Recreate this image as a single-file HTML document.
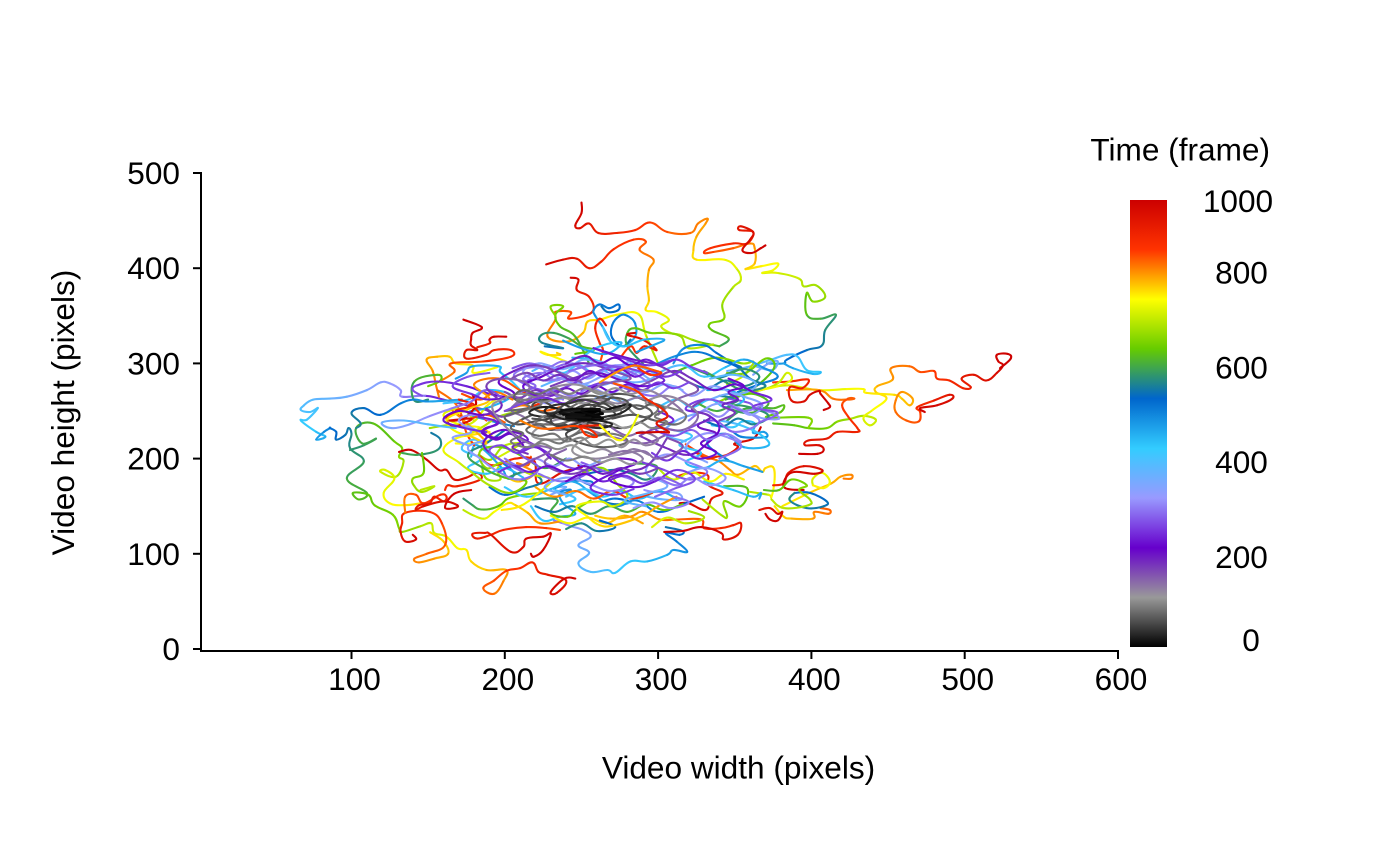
<!DOCTYPE html>
<html lang="en">
<head>
<meta charset="utf-8">
<title>Trajectories over time</title>
<style>
html,body{margin:0;padding:0;background:#fff}
svg{display:block}
text{font-family:"Liberation Sans",Arial,sans-serif;font-size:31.6px;fill:#000}
</style>
</head>
<body>
<svg id="chart" width="1400" height="866" viewBox="0 0 1400 866" xmlns="http://www.w3.org/2000/svg">
<defs><linearGradient id="time-gradient" x1="0" y1="1" x2="0" y2="0"></linearGradient></defs>
<g id="tracks"></g>
<g id="axes"></g>
<text x="738.5" y="778.5" text-anchor="middle">Video width (pixels)</text>
<text transform="translate(74 412.5) rotate(-90)" text-anchor="middle">Video height (pixels)</text>
<text x="1270" y="160.5" text-anchor="end">Time (frame)</text>
<rect x="1130" y="200" width="37" height="447" fill="url(#time-gradient)"></rect>
<g id="legend"></g>
</svg>
<script>
const xTicks=[100,200,300,400,500,600];
const yTicks=[0,100,200,300,400,500];
const legendTicks=[1000,800,600,400,200,0];
const timeStops=[0,111,222,333,444,556,667,778,889,1000];
const timeColors=["#000000","#999999","#6600cc","#9999ff","#33ccff","#0066cc","#66cc00","#ffff00","#ff3300","#cc0000"];

// Rows are [frame, x, y] in video pixels.
const track01=[[600,340,318],[640,346,326],[660,335,335],[670,334,342],[690,343,347],[700,342,363],[720,349,380],[735,354,388],[750,351,400],[775,343,409],[790,325,409],[805,323,419],[820,325,433],[835,331,447],[840,332,452],[845,326,447],[855,321,437],[870,306,438],[885,295,448],[900,285,440],[915,273,437],[935,261,437],[950,255,447],[965,249,442],[975,246,445],[985,250,458],[1000,250,469]];
const track02=[[640,340,318],[670,328,322],[700,322,325],[725,314,330],[735,308,332],[745,302,339],[755,307,346],[765,299,354],[790,292,356],[805,294,366],[815,293,381],[830,294,398],[845,297,409],[860,288,419],[875,292,428],[885,284,430],[900,271,420],[915,263,407],[930,255,400],[950,247,410],[970,238,409],[1000,227,404]];
const track03=[[700,300,300],[740,292,330],[770,287,352],[778,273,351],[790,262,346],[800,254,344],[815,251,332],[830,241,323],[845,228,328],[855,233,346],[865,233,354],[875,243,354],[885,242,347],[900,257,354],[925,255,370],[950,247,377],[975,248,388],[1000,243,390]];
const track04=[[620,255,300],[640,246,328],[660,236,339],[672,233,351],[680,238,360],[688,230,360],[696,233,350]];
const track05=[[560,226,318],[575,238,316],[590,224,322],[600,224,330],[612,232,332],[625,242,326],[640,250,318],[655,258,314],[670,246,310]];
const track06=[[470,269,323],[490,264,338],[505,259,350],[520,258,356],[530,262,362],[540,268,358],[548,274,362],[556,274,356],[565,267,354],[575,263,360]];
const track07=[[470,278,318],[490,285,328],[505,285,342],[515,280,350],[525,275,350],[535,270,340],[550,270,327],[565,277,318],[580,282,325]];
const track08=[[650,375,237],[660,389,235],[665,398,232],[675,410,232],[690,417,239],[705,426,242],[725,434,245],[735,442,241],[745,438,235],[755,434,243],[770,440,251],[785,449,263],[800,442,270],[815,443,276],[830,453,283],[845,452,295],[855,464,297],[870,471,291],[885,480,292],[895,482,284],[910,490,282],[925,499,274],[935,504,275],[945,498,284],[955,506,288],[965,514,282],[975,521,290],[985,525,298],[990,522,302],[993,521,309],[996,528,310],[998,530,305],[1000,523,295]];
const track09=[[730,367,272],[745,384,277],[760,404,272],[770,423,273],[778,434,273],[785,436,269],[795,454,267],[805,459,263],[815,464,256],[825,466,263],[835,459,270],[845,455,261],[855,455,249],[865,462,240],[875,470,239],[885,471,249],[895,469,254],[925,480,261],[960,490,267],[970,492,263],[980,482,256],[990,471,253],[1000,474,249]];
const track10=[[820,384,272],[835,405,272],[850,414,263],[860,423,262],[865,428,263],[870,424,263],[880,420,256],[895,424,244],[910,430,232],[920,430,228],[935,417,228],[945,410,221],[955,398,219],[965,396,214],[975,405,214],[985,408,209],[995,404,205],[1000,392,205]];
const track11=[[880,375,280],[900,386,281],[915,398,283],[930,394,274],[945,386,275],[960,387,261],[970,395,260],[980,399,267],[985,405,271],[990,406,268],[995,411,258],[998,412,254],[1000,408,251]];
const track12=[[700,360,165],[740,372,162],[770,374,160],[785,376,178],[795,375,191],[800,370,190],[805,368,186],[810,364,192],[815,360,190],[825,352,183],[835,347,188],[845,340,197],[860,335,200],[875,327,206],[890,318,215]];
const track13=[[780,381,150],[800,400,165],[815,413,174],[830,419,181],[840,426,183],[848,426,179],[852,421,179]];
const track14=[[740,401,172],[750,401,179],[760,407,185],[770,412,176],[780,408,169],[790,401,172]];
const track15=[[900,375,172],[920,382,174],[940,385,185],[960,395,192],[975,407,188],[985,402,184],[990,389,186],[994,383,179],[997,383,169],[1000,395,167]];
const track16=[[790,376,150],[800,382,139],[815,387,137],[830,401,137],[845,402,144],[855,411,142],[860,412,146],[870,406,148]];
const track17=[[950,366,146],[965,373,148],[975,378,142],[982,381,144],[988,378,135],[994,373,136],[1000,370,142]];
const track18=[[540,389,164],[555,399,164],[565,410,155],[572,408,150],[580,397,148],[590,386,156],[600,389,164]];
const track19=[[640,369,167],[655,379,167],[670,387,178],[685,397,172],[695,392,167],[705,399,157],[712,398,151],[722,382,148],[735,374,157]];
const track20=[[150,190,250],[200,160,262],[300,148,266],[320,133,265],[330,132,272],[340,125,279],[350,119,280],[360,110,272],[375,97,265],[390,86,263],[400,75,262],[410,69,256],[415,67,251],[420,73,249],[425,78,253],[430,71,241],[440,67,240],[450,77,228],[470,83,223],[490,77,220],[510,82,228],[530,86,232],[540,86,232],[555,90,228],[560,90,220],[570,96,225],[575,98,232],[585,100,226],[600,99,211],[610,108,197],[625,97,179],[640,110,164],[650,105,157],[655,101,164],[660,111,162],[668,115,151],[680,127,141],[688,131,127],[690,133,123],[710,145,129],[730,152,132],[745,154,122],[760,162,118],[775,169,106],[785,175,104],[795,178,92],[810,188,83],[830,201,83],[840,199,71],[855,193,58],[865,186,64],[875,193,72],[885,201,82],[900,210,85],[915,218,91],[930,222,81],[945,228,78],[960,240,72],[970,234,59],[980,230,60],[990,239,74],[1000,246,74]];
const track21=[[600,99,209],[612,108,214],[620,116,221],[628,107,216],[636,103,232],[650,114,237],[665,128,218],[680,133,211],[690,131,202],[700,134,197],[730,129,181],[745,119,186],[750,122,188],[755,128,179],[765,121,164],[775,125,153],[785,135,151],[800,145,153]];
const track22=[[780,152,122],[790,152,122],[800,160,113],[815,163,100],[830,154,95],[840,144,91],[850,141,95],[860,149,100],[870,161,109],[880,159,132],[895,151,144],[910,135,143],[925,133,132],[940,132,123],[965,135,113],[985,142,115],[1000,140,120]];
const track23=[[840,135,143],[860,135,160],[875,142,162],[885,147,153],[900,158,162],[915,162,160],[925,160,155],[935,154,160],[945,151,153],[950,144,151],[955,142,146],[960,147,150],[970,160,155],[980,169,151],[985,167,148],[990,161,149],[995,167,163],[1000,178,167]];
const track24=[[900,161,167],[915,163,172],[925,169,171],[940,184,178],[950,182,185],[960,175,180],[970,167,178],[980,162,188],[985,157,188],[990,149,199],[995,139,209],[1000,131,207]];
const track25=[[860,236,125],[885,227,127],[900,214,128],[915,199,125],[925,191,120],[935,182,116],[940,179,121],[950,187,122],[955,191,120],[965,204,102],[972,212,107],[980,214,116],[985,225,118],[990,230,121],[993,225,104],[996,219,97],[1000,217,100]];
const track26=[[300,232,135],[320,238,132],[340,243,129],[355,251,125],[365,256,118],[375,248,109],[385,255,101],[395,248,90],[405,256,81],[420,267,83],[430,272,80],[445,282,92],[460,293,92],[480,306,99],[495,310,104],[510,319,102],[530,312,113],[545,305,122],[555,314,120],[565,316,124],[575,305,128]];
const track27=[[530,264,155],[545,272,158],[555,282,154],[565,272,152],[575,264,155]];
const track28=[[800,259,140],[815,269,137],[830,282,139],[840,290,144],[850,301,136],[860,312,136],[875,328,136],[890,330,127],[905,341,127],[925,349,130],[945,354,132],[960,352,120],[970,343,115],[980,341,122],[990,328,128],[995,316,124],[1000,304,123]];
const track29=[[880,312,181],[900,321,185],[915,332,183],[930,333,172],[945,342,164],[960,335,158],[975,331,146],[990,320,153],[1000,314,153]];
const track30=[[880,325,206],[905,332,200],[925,338,202],[945,345,204],[960,352,212],[970,350,216],[985,362,221],[1000,367,233]];
const track31=[[345,230,162],[370,240,170],[400,232,168],[430,246,158],[460,236,152]];
const track32=[[480,371,300],[520,382,300],[545,384,304],[560,397,314],[580,407,319],[595,409,335],[610,416,351],[625,406,347],[650,397,351],[665,397,374],[690,401,365],[700,409,370],[710,403,382],[718,395,381],[730,392,389],[750,378,395],[760,368,395],[770,375,398],[775,378,405],[785,367,402],[795,357,399],[810,363,405],[825,363,421],[845,360,426],[860,349,421],[875,336,417],[885,330,416],[895,334,421],[910,349,426],[925,358,426],[940,362,438],[950,353,440],[955,354,444],[965,362,438],[975,360,430],[985,355,419],[993,361,416],[997,367,421],[1000,370,424]];
const track33=[[380,345,292],[395,358,296],[405,372,303],[415,384,309],[425,391,307],[440,397,293],[455,406,291],[465,401,289],[480,388,295],[495,382,300]];
const track34=[[355,362,288],[365,372,300],[375,378,302],[385,374,293],[395,362,298]];
const track35=[[770,195,296],[775,180,290],[785,179,298],[795,168,300],[805,164,307],[815,156,307],[825,149,304],[835,153,292],[845,155,278],[855,157,265]];
const track36=[[840,155,279],[860,167,291],[870,165,300],[885,186,302],[900,204,307],[915,204,314],[925,193,314],[935,188,309],[945,175,305],[955,175,314],[965,182,314],[970,178,319],[980,178,325],[990,179,332],[995,185,338],[1000,173,346]];
const track37=[[920,182,317],[950,190,321],[975,190,325],[990,193,328],[1000,201,328]];
const track38=[[590,150,262],[610,141,261],[630,141,281],[650,156,288],[665,158,282],[680,150,276]];
const track39=[[215,210,262],[230,190,268],[245,175,276],[255,156,281],[265,143,277],[275,140,272],[285,146,266]];
const track40=[[440,210,272],[450,204,282],[460,197,291],[470,196,297],[480,179,297],[490,175,290],[505,168,284]];
const track41=[[600,240,200],[625,226,190],[650,212,202],[670,198,212],[685,184,208],[700,188,190],[715,200,196],[730,216,184],[745,230,178],[760,222,164],[780,210,150],[800,198,146]];
const track42=[[560,200,230],[590,188,216],[610,176,204],[630,186,190],[650,200,180],[670,214,176],[690,204,164],[710,190,172],[730,178,186],[750,170,196],[770,160,210],[790,174,224],[810,188,216],[830,176,236],[850,166,250]];
const track43=[[880,188,240],[900,178,256],[915,175,251],[925,167,247],[935,162,242],[945,166,234],[955,173,237],[965,178,242],[975,164,240],[985,173,242],[995,181,256],[1000,179,267]];
const track44=[[700,210,250],[720,196,244],[740,184,232],[760,172,226],[780,162,240],[800,176,252],[820,190,262],[840,180,278],[860,196,284],[880,212,270],[900,226,262],[920,210,250]];
const track45=[[680,251,185],[695,264,190],[710,273,174],[725,280,160],[740,271,150],[755,262,155],[770,247,150],[785,254,139],[795,262,130],[805,272,130],[815,290,140],[830,300,150],[840,312,160]];
const track46=[[860,271,279],[880,285,272],[900,292,263],[920,302,253],[935,306,244],[950,299,237],[970,307,228],[985,302,228],[1000,286,227]];
const track47=[[600,290,300],[620,280,318],[640,280,332],[655,285,337],[670,295,332],[685,306,332],[700,315,328],[715,320,316],[730,336,320]];
const track48=[[870,262,300],[885,264,314],[900,262,321],[915,259,337],[930,262,347],[945,266,340]];
const track49=[[880,275,305],[895,282,318],[910,286,311],[925,291,318],[940,299,314],[955,290,325],[970,280,330],[985,285,332]];
const track50=[[420,264,338],[435,269,323],[450,278,318],[465,291,325],[480,304,325],[495,295,318],[510,286,312]];
const track51=[[770,240,302],[780,224,312],[790,228,309],[800,236,309],[810,234,311]];
const track52=[[820,262,280],[835,272,290],[850,282,297],[860,288,297],[870,297,293],[880,302,290],[890,295,288],[900,287,295]];
const track53=[[500,310,300],[515,317,316],[530,330,319],[545,338,311],[560,349,300],[570,354,296],[578,352,293],[590,340,285],[610,330,290],[625,318,298]];
const track54=[[640,310,290],[660,322,298],[680,338,306],[700,355,300],[712,362,302],[722,360,295],[735,355,286],[745,345,278]];
const track55=[[690,340,260],[705,352,268],[720,367,272],[730,378,279],[745,384,290],[755,387,283],[765,378,276],[775,366,272]];
const track56=[[620,344,262],[640,358,270],[655,370,284],[665,376,298],[675,370,305],[685,357,290],[695,345,290]];
const track57=[[610,345,240],[625,356,252],[635,371,253],[645,376,253],[650,382,256],[660,380,249],[670,371,243],[685,398,243],[695,398,232]];
const track58=[[270,346,263],[285,360,258],[300,363,251],[315,373,249],[330,379,242],[345,369,242],[360,362,246],[375,350,250]];
const track59=[[430,217,150],[445,225,135],[460,236,139],[475,246,142],[490,238,153],[505,236,164],[520,243,167],[535,232,158]];
const track60=[[600,217,157],[620,234,157],[640,230,143],[660,241,139],[680,246,146],[695,256,156]];
const track61=[[500,233,169],[515,243,176],[530,256,176],[540,256,172],[555,249,181],[570,269,188],[585,281,185],[600,293,178],[615,299,192],[630,284,195]];
const track62=[[320,291,167],[335,297,165],[350,312,164],[365,315,157],[380,304,157],[395,293,160]];
const track63=[[640,343,171],[655,358,169],[670,354,150],[685,343,155],[700,345,139],[715,341,141],[730,329,157]];
const track64=[[440,330,176],[455,349,167],[470,362,160],[480,367,164],[490,366,158]];
const track65=[[690,183,204],[705,191,199],[720,199,213],[730,210,216],[740,204,209],[750,193,199]];
const track66=[[690,185,192],[705,188,179],[720,197,178],[730,195,188],[740,198,195]];
const track67=[[460,178,202],[475,182,214],[490,197,192],[505,202,179],[520,206,185],[535,199,195]];
const track68=[[770,168,216],[780,178,216],[790,191,220],[800,187,230],[810,178,227]];
const track69=[[850,156,272],[865,169,255],[880,175,227],[895,180,214]];
const track70=[[800,203,179],[815,210,176],[830,219,185],[845,208,195],[860,215,193],[875,217,202]];
const track71=[[880,183,204],[900,192,193],[920,207,200],[935,219,198],[950,222,174],[965,238,186],[985,250,191],[1000,248,193]];
const track72=[[700,151,232],[720,162,235],[740,178,237],[760,188,255],[780,195,263]];
const track73=[[570,152,227],[585,158,220],[600,156,209],[615,143,204],[630,133,206]];
const track74=[[660,146,206],[675,147,185],[690,140,179],[700,141,171],[712,146,165],[722,154,171],[732,145,167]];
const track75=[[600,173,158],[615,179,151],[630,183,147],[645,190,147],[660,197,151],[675,202,158],[690,212,162],[705,224,164]];
const track76=[[720,173,146],[740,180,140],[755,187,137],[770,193,144],[785,202,153],[800,207,151],[815,215,143],[830,223,132],[845,236,134]];
const track77=[[480,172,262],[500,150,260],[520,141,262],[530,132,258],[545,119,246],[560,108,253],[575,100,248],[585,106,237],[595,103,232]];
const track78=[[420,160,258],[435,176,262],[450,188,272],[465,204,266],[480,190,254],[495,176,248],[510,190,240],[525,206,234]];
const track79=[[420,335,235],[435,349,233],[450,355,239],[465,363,237],[480,362,227],[495,369,228],[505,371,223],[515,363,222],[525,354,223],[535,349,228]];
const track80=[[400,300,290],[420,316,298],[440,330,286],[460,344,296],[480,356,304],[500,368,296],[520,378,286],[535,366,278],[550,352,270]];
const track81=[[400,340,240],[420,352,236],[440,366,226],[460,372,214],[480,356,212],[500,344,226],[520,332,216],[540,346,198]];
const track82=[[430,200,170],[445,214,160],[460,230,168],[475,244,176],[490,258,162],[505,272,150],[520,286,156],[535,300,144],[550,316,152],[565,330,160]];
const track83=[[420,250,306],[440,262,318],[460,276,322],[475,266,310],[490,250,316],[505,238,324]];
const track84=[[500,300,300],[515,312,308],[530,326,312],[545,340,304],[560,352,296],[575,360,284],[590,370,276],[605,356,272],[620,342,282],[635,330,292]];
const track85=[[270,215,282],[285,228,292],[300,244,300],[315,258,290],[330,272,298],[345,288,294],[360,276,284],[375,258,276],[390,240,284],[405,224,276]];
const track86=[[270,230,270],[285,216,276],[300,206,288],[315,220,296],[330,234,286],[345,250,278],[360,268,288],[375,284,280],[390,298,288],[405,282,300]];
const track87=[[260,250,272],[275,266,280],[290,282,272],[305,298,266],[320,310,276],[335,322,266],[350,336,276],[365,352,268],[380,364,278],[395,350,288],[410,334,284]];
const track88=[[270,200,262],[285,188,272],[300,178,260],[315,164,252],[330,150,244],[345,138,236],[360,126,232],[375,120,238],[390,134,240],[405,150,236],[420,168,232]];
const track89=[[270,320,232],[285,336,240],[300,350,228],[315,366,238],[330,356,250],[345,340,258],[360,326,248],[375,312,240],[390,304,226],[405,318,218]];
const track90=[[260,290,196],[275,304,188],[290,320,178],[305,332,186],[320,320,196],[335,304,204],[350,292,186],[365,306,172],[380,294,164],[395,278,156],[410,292,150]];
const track91=[[260,222,216],[275,210,206],[290,222,190],[305,210,178],[320,196,186],[335,184,200],[350,176,212],[365,188,222],[380,176,234]];
const track92=[[280,250,196],[295,266,186],[310,284,176],[325,270,166],[340,254,174],[355,240,180],[370,226,170],[385,240,162]];
const track93=[[290,340,200],[305,354,212],[320,346,222],[335,330,226],[350,318,210],[365,332,196]];
const track94=[[300,240,286],[315,226,282],[330,212,290],[345,222,300],[360,238,294],[375,252,304],[390,266,296],[405,280,286],[420,264,278]];
const track95=[[170,270,292],[185,254,300],[200,238,296],[215,224,286],[230,212,276],[245,222,266],[260,238,274],[275,254,286],[290,270,296],[305,286,288],[320,296,276]];
const track96=[[170,288,224],[185,304,212],[200,320,204],[215,332,216],[230,340,232],[245,332,246],[260,318,252],[275,330,262],[290,344,258],[305,356,250],[320,368,256]];
const track97=[[160,220,200],[175,208,192],[190,196,200],[205,186,216],[220,198,230],[235,210,222],[250,226,208],[265,240,192],[280,254,186],[295,238,176],[310,222,184]];
const track98=[[170,306,222],[185,294,194],[200,280,186],[215,268,178],[230,284,170],[245,298,176],[260,312,188],[275,324,178],[290,310,168],[305,298,160]];
const track99=[[150,250,280],[165,236,290],[180,220,298],[195,206,292],[210,196,280],[225,206,268],[240,190,262],[255,178,268],[270,166,276],[285,176,286],[300,190,290]];
const track100=[[150,280,270],[165,296,282],[180,310,292],[195,322,284],[210,336,272],[225,350,278],[240,362,270],[255,374,262],[270,362,254],[285,378,248],[300,366,238]];
const track101=[[140,240,210],[155,226,196],[170,242,184],[185,258,192],[200,272,200],[215,286,196],[230,272,186],[245,256,170],[260,270,162],[275,284,168]];
const track102=[[130,300,246],[145,312,262],[160,326,272],[175,316,284],[190,300,298],[205,284,304],[220,270,310],[235,258,316],[250,276,306],[265,294,298],[280,310,304]];
const track103=[[130,206,256],[145,216,276],[160,200,284],[175,188,276],[190,198,256],[205,186,246],[220,170,250],[235,160,240],[250,174,232],[265,188,228]];
const track104=[[170,230,276],[185,244,284],[200,260,290],[215,276,282],[230,290,276],[245,304,282],[260,292,290],[275,276,296],[290,258,298],[305,242,292]];
const track105=[[40,250,254],[50,262,264],[60,276,268],[70,290,262],[80,300,252],[90,288,244],[100,274,262],[110,258,272],[120,244,278],[130,230,272],[140,246,264],[150,264,278],[160,282,284],[170,270,292]];
const track106=[[30,250,248],[38,240,256],[46,228,262],[54,218,256],[62,226,248],[70,240,252],[78,254,262],[86,268,258],[94,276,248],[102,264,240],[110,250,236],[118,236,230],[126,222,234],[134,212,244],[142,204,252],[150,214,262],[160,230,268]];
const track107=[[30,248,240],[38,262,236],[46,276,232],[54,288,238],[62,296,248],[70,286,256],[78,272,250],[86,258,246],[94,246,226],[102,232,220],[110,218,224],[118,226,236],[126,242,242],[134,256,230],[142,272,222],[150,290,216],[160,304,224]];
const track108=[[40,254,236],[50,240,226],[60,250,216],[70,266,212],[80,280,218],[90,270,226],[100,254,222],[110,244,208],[120,258,200],[130,274,204],[140,290,208],[150,300,200],[160,316,212],[170,306,222]];
const track109=[[40,236,244],[50,222,240],[60,208,236],[70,200,244],[80,212,250],[90,224,258],[100,212,268],[110,198,262],[120,192,252],[130,204,228],[140,216,216],[150,230,210],[160,220,200]];
const track110=[[50,270,242],[60,284,246],[70,298,240],[80,312,236],[90,318,246],[100,306,254],[110,292,258],[120,304,266],[130,318,258],[140,326,244],[150,316,230],[160,300,232],[170,288,224]];
const track111=[[10,246,246],[16,236,252],[22,224,254],[28,216,248],[34,226,244],[40,240,248],[46,252,256],[52,264,254],[58,272,246],[64,262,240],[70,248,242],[76,234,236],[82,220,238],[88,230,246],[94,246,240]];
const track112=[[8,262,248],[14,272,254],[20,282,256],[26,276,248],[32,266,244],[38,252,240],[44,240,234],[50,230,240],[56,240,258],[62,254,266],[68,268,262]];
const track113=[[0,238,246],[2,258,248],[4,240,244],[6,260,246],[8,240,242],[10,258,244],[12,242,241],[14,256,242],[16,244,248],[18,260,250],[20,242,250],[22,232,246],[24,244,240],[26,262,242],[28,248,252],[30,238,250],[32,228,246]];
const track114=[[210,262,258],[225,250,262],[240,238,258],[255,226,264],[270,212,258],[280,200,250]];
const track115=[[840,210,240],[855,222,232],[870,234,232],[885,247,234],[895,253,225],[905,260,223],[915,256,230],[925,249,234],[935,262,235]];
const track116=[[760,287,246],[770,280,225],[780,273,220],[790,262,235]];
const track117=[[40,252,240],[48,246,232],[54,238,236],[60,230,230],[66,222,236],[72,214,230],[78,222,224],[84,232,226],[90,240,218],[96,250,222],[102,258,214],[108,268,220],[114,276,212],[120,284,220],[126,292,214],[132,300,220],[140,290,228],[148,280,224],[156,270,232]];
const track118=[[40,256,252],[48,264,258],[54,272,252],[60,280,258],[66,288,252],[72,296,258],[78,304,252],[84,298,244],[90,306,238],[96,296,232],[102,288,238],[108,278,232],[114,268,238],[120,258,232],[126,248,238],[132,238,232]];
const track119=[[50,230,256],[56,222,262],[62,214,258],[68,206,264],[74,212,272],[80,222,268],[86,232,274],[92,242,268],[98,252,274],[104,262,268],[110,272,274],[116,282,268],[122,292,272],[128,302,266],[134,310,258],[140,316,250]];
const track120=[[60,218,246],[66,210,240],[72,204,232],[78,212,226],[84,204,218],[90,214,212],[96,224,216],[102,234,210],[108,244,214],[114,254,206],[120,264,210],[126,274,204],[132,284,210],[138,294,204]];
const track121=[[60,268,228],[66,260,224],[72,252,228],[78,244,224],[84,236,216],[90,226,220],[96,218,212]];
const track122=[[70,200,250],[78,216,254],[86,208,262],[94,226,260],[102,238,264],[110,250,258],[118,262,262],[126,274,258],[134,286,264],[142,296,260]];
const track123=[[80,230,204],[88,240,198],[96,252,202],[104,262,196],[112,272,200],[120,282,194],[128,290,200],[136,280,208],[144,268,204]];
const track124=[[20,232,244],[26,226,250],[32,232,256],[38,242,258],[44,252,262],[50,262,258],[56,270,264],[62,280,260],[68,276,252],[74,266,250],[80,256,254]];
const track125=[[20,262,240],[26,270,236],[32,262,232],[38,252,234],[44,242,230],[50,234,234],[56,226,240],[62,218,242]];
const track126=[[0,246,248],[1,262,250],[2,246,245],[3,264,247],[4,246,243],[5,262,244],[6,248,241],[7,264,242],[8,250,250],[9,262,252],[10,244,252],[11,236,248],[12,252,246],[13,240,244],[14,256,243]];
const track127=[[160,200,270],[170,210,264],[180,220,272],[190,230,266],[200,240,274],[210,250,268],[220,260,276],[230,270,270],[240,280,278],[250,290,272],[260,300,280],[270,310,274],[280,320,280]];
const track128=[[160,205,285],[170,215,290],[180,225,282],[190,235,288],[200,245,282],[210,255,292],[220,265,286],[230,275,294],[240,285,286],[250,295,292],[260,305,286],[270,315,292]];
const track129=[[160,210,250],[170,198,244],[180,188,252],[190,196,238],[200,186,230],[210,194,220],[220,204,226],[230,212,214]];
const track130=[[170,330,262],[180,322,252],[190,334,244],[200,326,234],[210,338,226],[220,328,216],[230,338,206],[240,326,200],[250,316,208],[260,306,198],[270,296,206]];
const track131=[[170,300,190],[180,288,184],[190,276,190],[200,264,184],[210,252,192],[220,240,186],[230,228,192],[240,216,186],[250,206,192],[260,196,186]];
const track132=[[180,215,205],[190,205,212],[200,215,220],[210,205,228],[220,195,222],[230,185,228],[240,195,238],[250,183,244]];
const track133=[[190,240,300],[200,252,308],[210,262,300],[220,272,306],[230,282,298],[240,292,304],[250,302,298],[260,312,304],[270,322,296],[280,332,290]];
const track134=[[170,340,240],[180,350,248],[190,342,256],[200,352,262],[210,346,270],[220,356,276],[230,346,284]];
const track135=[[280,210,270],[290,220,276],[300,212,284],[310,224,290],[320,234,282],[330,244,292],[340,254,284],[350,264,292],[360,274,284],[370,284,292],[380,294,284]];
const track136=[[280,205,295],[290,216,300],[300,228,296],[310,238,302],[320,250,296],[330,260,302],[340,272,296],[350,282,302],[360,292,296]];
const track137=[[290,220,266],[300,232,272],[310,244,266],[320,256,274],[330,268,268],[340,280,276],[350,292,270],[360,304,278],[370,316,272]];
const track138=[[300,320,240],[310,330,250],[320,340,244],[330,350,254],[340,360,246],[350,368,256],[360,358,264],[370,346,268],[380,334,262]];
const track139=[[300,200,200],[310,210,192],[320,220,200],[330,232,192],[340,242,200],[350,252,192],[360,262,198]];
const track140=[[300,300,180],[310,312,172],[320,322,180],[330,334,172],[340,344,180],[350,332,190],[360,320,186]];
const track141=[[310,190,240],[320,180,246],[330,170,240],[340,178,228],[350,166,222],[360,176,214]];
const track142=[[300,310,160],[310,320,154],[320,308,148],[330,296,154],[340,284,148]];
const track143=[[400,218,292],[410,228,298],[420,238,290],[430,248,298],[440,258,290],[450,268,296],[460,258,304],[470,244,306]];
const track144=[[420,300,254],[430,312,262],[440,322,254],[450,334,262],[455,344,254],[465,356,262],[475,346,272],[485,332,272]];
const track145=[[420,310,230],[430,322,224],[440,314,214],[450,328,206],[460,318,196],[470,330,190],[480,342,198],[490,356,192],[500,368,186]];
const track146=[[400,190,210],[410,180,220],[420,172,210],[430,184,200],[440,176,190],[450,188,184],[460,200,190],[470,212,180]];
const track147=[[420,240,160],[430,252,168],[440,264,160],[450,276,166],[460,288,158],[470,300,166],[480,312,158]];
const track148=[[560,330,240],[570,342,234],[580,352,242],[590,362,236],[600,372,244],[610,364,252],[620,350,256],[630,338,250],[640,326,258]];
const track149=[[560,320,280],[570,332,274],[580,344,282],[590,356,276],[600,366,286],[610,356,294],[620,344,288]];
const track150=[[580,340,266],[595,352,262],[610,346,254],[625,360,248],[640,372,258],[655,362,268],[670,350,264]];
const track151=[[560,220,150],[575,232,144],[590,244,150],[605,256,142],[620,268,150],[635,280,144],[650,292,152],[665,304,146],[680,316,152]];
const track152=[[540,190,170],[555,200,162],[570,212,168],[585,224,176],[600,214,186],[615,202,180]];
const track153=[[740,180,240],[750,172,252],[760,160,246],[770,170,236],[780,184,232],[790,172,224],[800,190,228]];
const track154=[[720,300,190],[735,310,178],[750,322,186],[765,334,176],[780,344,184],[795,356,178]];
const track155=[[820,220,170],[835,232,160],[850,246,166],[865,258,158],[880,270,166],[895,282,158],[910,296,164]];
const track156=[[860,200,238],[875,188,246],[890,176,242],[905,168,250],[920,180,256],[935,170,262]];
const track157=[[840,205,262],[855,194,270],[870,184,262],[885,172,268]];
const track158=[[760,230,140],[775,242,132],[790,254,138],[805,266,132],[820,278,140],[835,290,132]];
const track159=[[700,320,145],[715,330,138],[730,318,132],[745,306,138],[760,296,128]];
const track160=[[550,262,135],[565,272,128],[580,260,124],[595,250,132],[610,240,126]];
const track161=[[830,200,250],[845,212,256],[860,224,250],[875,236,254]];
const track162=[[300,238,262],[312,226,270],[324,216,264],[336,228,258],[348,240,264],[360,252,258],[372,264,266],[384,276,260],[396,288,266]];
const track163=[[240,300,250],[252,310,240],[264,298,232],[276,310,224],[288,322,230],[300,332,220],[312,344,226],[324,354,218]];
const track164=[[240,230,200],[250,220,212],[260,208,206],[270,198,214],[280,190,208],[290,200,196],[300,212,186]];
const track165=[[210,240,176],[225,252,184],[240,264,176],[255,278,182],[270,290,174],[285,302,180],[300,316,172]];

const tracks=[track32,track08,track09,track10,track11,track12,track13,track14,track15,track16,track17,track18,track19,track20,track21,track22,track23,track24,track25,track26,track27,track28,track29,track30,track31,track33,track34,track01,track02,track03,track04,track05,track06,track07,track35,track36,track37,track38,track39,track40,track47,track48,track49,track50,track51,track53,track54,track55,track56,track57,track58,track59,track60,track61,track62,track63,track64,track65,track66,track67,track68,track69,track70,track71,track72,track73,track74,track75,track76,track77,track78,track79,track80,track81,track82,track83,track84,track143,track144,track145,track146,track147,track148,track149,track150,track151,track152,track153,track154,track155,track156,track157,track158,track159,track160,track161,track41,track42,track43,track44,track45,track85,track86,track87,track88,track89,track90,track91,track92,track93,track94,track135,track136,track137,track138,track139,track140,track141,track142,track162,track95,track96,track97,track98,track99,track100,track101,track102,track103,track104,track127,track128,track129,track130,track131,track132,track133,track134,track163,track164,track165,track105,track106,track107,track108,track109,track110,track117,track118,track119,track120,track121,track122,track123,track114,track111,track112,track124,track125,track46,track52,track113,track126,track115,track116];

const NS='http://www.w3.org/2000/svg';
function xScale(v){return 351.5+(v-100)*1.533;}
function yScale(v){return 649-v*0.952;}
function hexToRgb(h){return [parseInt(h.slice(1,3),16),parseInt(h.slice(3,5),16),parseInt(h.slice(5,7),16)];}
function timeColor(f){
  let i=0;
  while(i<timeStops.length-2&&f>timeStops[i+1])i++;
  const k=Math.max(0,Math.min(1,(f-timeStops[i])/(timeStops[i+1]-timeStops[i])));
  const a=hexToRgb(timeColors[i]),b=hexToRgb(timeColors[i+1]);
  return 'rgb('+a.map((c,j)=>Math.round(c+(b[j]-c)*k)).join(',')+')';
}
const grad=document.getElementById('time-gradient');
timeStops.forEach((s,i)=>{
  const st=document.createElementNS(NS,'stop');
  st.setAttribute('offset',(s/1000));
  st.setAttribute('stop-color',timeColors[i]);
  grad.appendChild(st);
});
const trackLayer=document.getElementById('tracks');
tracks.forEach((tr)=>{
  const g=document.createElementNS(NS,'g');
  
  
  const P=tr.map(r=>[xScale(r[1]),yScale(r[2])]);
  for(let i=0;i<P.length-1;i++){
    const p0=P[Math.max(0,i-1)],p1=P[i],p2=P[i+1],p3=P[Math.min(P.length-1,i+2)];
    const c1=[p1[0]+(p2[0]-p0[0])/5,p1[1]+(p2[1]-p0[1])/5];
    const c2=[p2[0]-(p3[0]-p1[0])/5,p2[1]-(p3[1]-p1[1])/5];
    const seg=document.createElementNS(NS,'path');
    
    
    seg.setAttribute('d','M'+p1[0].toFixed(1)+' '+p1[1].toFixed(1)+'C'+c1[0].toFixed(1)+' '+c1[1].toFixed(1)+' '+c2[0].toFixed(1)+' '+c2[1].toFixed(1)+' '+p2[0].toFixed(1)+' '+p2[1].toFixed(1));
    seg.setAttribute('fill','none');
    seg.setAttribute('stroke',timeColor((tr[i][0]+tr[i+1][0])/2));
    seg.setAttribute('stroke-width','2.1');
    seg.setAttribute('stroke-linecap','round');
    g.appendChild(seg);
  }
  trackLayer.appendChild(g);
});
const axes=document.getElementById('axes');
function addLine(x1,y1,x2,y2,name){
  const l=document.createElementNS(NS,'line');
  
  
  l.setAttribute('x1',x1);l.setAttribute('y1',y1);l.setAttribute('x2',x2);l.setAttribute('y2',y2);
  l.setAttribute('stroke','#000');l.setAttribute('stroke-width','2');
  axes.appendChild(l);
}
function addText(parent,x,y,anchor,str,name){
  const t=document.createElementNS(NS,'text');
  
  
  t.setAttribute('x',x);t.setAttribute('y',y);t.setAttribute('text-anchor',anchor);
  t.textContent=str;
  parent.appendChild(t);
}
addLine(200,651,xScale(600)+1,651,'x-axis-line');
addLine(201,yScale(500)-1,201,652,'y-axis-line');
xTicks.forEach(v=>{
  addLine(xScale(v),651,xScale(v),659,'x-tick');
  addText(axes,xScale(v)+3,690,'middle',String(v),'x-tick-label');
});
yTicks.forEach(v=>{
  addLine(193,yScale(v),201,yScale(v),'y-tick');
  addText(axes,180,yScale(v)+11,'end',String(v),'y-tick-label');
});
const legend=document.getElementById('legend');
legendTicks.forEach(v=>{
  const cy=Math.max(201,Math.min(640,651.5-v*0.4735));
  const cx=v===1000?1238:(v===0?1251:1241.5);
  addText(legend,cx,cy+11,'middle',String(v),'legend-label');
});
</script>
</body>
</html>
